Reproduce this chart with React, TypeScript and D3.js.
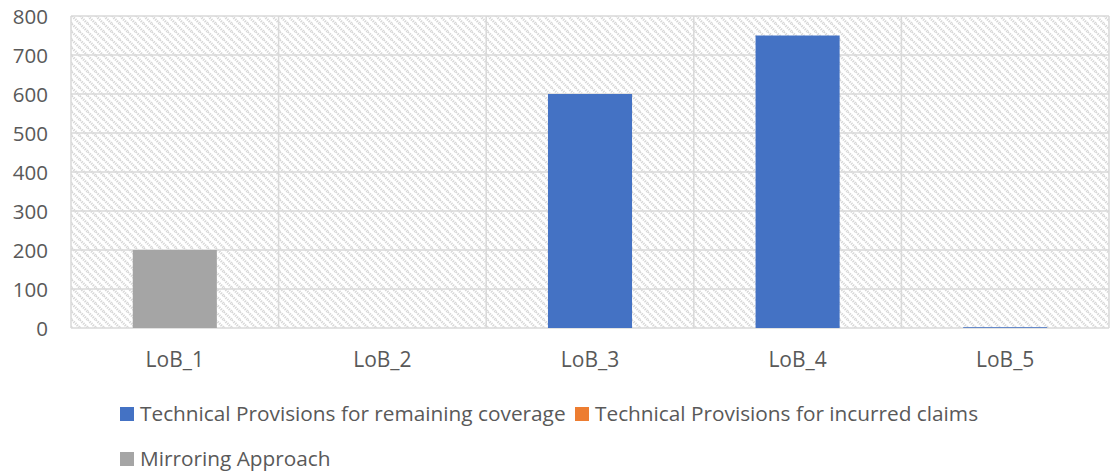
import React from "react";
import * as d3 from "d3";

// Lines of business on the category axis
const categories = ["LoB_1", "LoB_2", "LoB_3", "LoB_4", "LoB_5"];

// Series values per line of business
const remainingCoverage = [0, 0, 600, 750, 2];
const incurredClaims = [0, 0, 0, 0, 0];
const mirroringApproach = [200, 0, 0, 0, 0];

const seriesNames = [
  "Technical Provisions for remaining coverage",
  "Technical Provisions for incurred claims",
  "Mirroring Approach",
];
const seriesColors = ["#4472C4", "#ED7D31", "#A5A5A5"];

const yTicks = [0, 100, 200, 300, 400, 500, 600, 700, 800];

const W = 1117;
const H = 476;
const margin = { left: 71, right: 8, top: 16, bottom: 148 };
const FONT = "'Open Sans', Lato, sans-serif";
const TEXT = "#595959";
const GRID = "#D9D9D9";

export default function App() {
  const x = d3
    .scaleBand<string>()
    .domain(categories)
    .range([margin.left, W - margin.right])
    .padding(0);
  const y = d3
    .scaleLinear()
    .domain([0, 800])
    .range([H - margin.bottom, margin.top]);

  const rows = categories.map((c, i) => ({
    cat: c,
    s0: remainingCoverage[i],
    s1: incurredClaims[i],
    s2: mirroringApproach[i],
  }));
  const stacked = d3.stack<any>().keys(["s0", "s1", "s2"])(rows);

  const barW = x.bandwidth() * 0.405;
  const plotL = margin.left;
  const plotR = W - margin.right;
  const plotT = margin.top;
  const plotB = H - margin.bottom;

  // legend layout: two entries on the first row, one on the second
  const legendItems = [
    { i: 0, x: 120, y: 407 },
    { i: 1, x: 575, y: 407 },
    { i: 2, x: 120, y: 452 },
  ];

  return (
    <svg
      width={W}
      height={H}
      style={{ position: "absolute", left: 0, top: 0, background: "#fff" }}
    >
      <defs>
        <pattern
          id="diag"
          width={8}
          height={8}
          patternUnits="userSpaceOnUse"
        >
          <path
            d="M-4,4 L4,12 M0,0 L8,8 M4,-4 L12,4"
            stroke="#D6D6D6"
            strokeWidth={2.6}
            strokeDasharray="1.3 1"
          />
        </pattern>
      </defs>

      {/* hatched plot area */}
      <rect
        x={plotL}
        y={plotT}
        width={plotR - plotL}
        height={plotB - plotT}
        fill="url(#diag)"
      />

      {/* horizontal gridlines */}
      {yTicks.map((t) => (
        <line
          key={"h" + t}
          x1={plotL}
          x2={plotR}
          y1={y(t)}
          y2={y(t)}
          stroke={GRID}
          strokeWidth={1.5}
        />
      ))}
      {/* vertical gridlines between categories */}
      {categories.map((c) => (
        <line
          key={"v" + c}
          x1={x(c)!}
          x2={x(c)!}
          y1={plotT}
          y2={plotB}
          stroke={GRID}
          strokeWidth={1.5}
        />
      ))}
      <line
        x1={plotR}
        x2={plotR}
        y1={plotT}
        y2={plotB}
        stroke={GRID}
        strokeWidth={1.5}
      />

      {/* bars */}
      {stacked.map((layer, si) =>
        layer.map((d, ci) => {
          const h = y(d[0]) - y(d[1]);
          if (h <= 0) return null;
          const cx = x(categories[ci])! + x.bandwidth() / 2;
          return (
            <rect
              key={si + "-" + ci}
              x={cx - barW / 2}
              y={y(d[1])}
              width={barW}
              height={h}
              fill={seriesColors[si]}
            />
          );
        })
      )}

      {/* y axis labels */}
      {yTicks.map((t) => (
        <text
          key={"yl" + t}
          x={48}
          y={y(t) + 7.8}
          textAnchor="end"
          fontFamily={FONT}
          fontSize={20.5}
          fill={TEXT}
        >
          {t}
        </text>
      ))}

      {/* x axis labels */}
      {categories.map((c) => (
        <text
          key={"xl" + c}
          x={x(c)! + x.bandwidth() / 2}
          y={366.5}
          textAnchor="middle"
          fontFamily={FONT}
          fontSize={21}
          fill={TEXT}
        >
          {c}
        </text>
      ))}

      {/* legend */}
      {legendItems.map((l) => (
        <g key={"lg" + l.i}>
          <rect x={l.x} y={l.y} width={14} height={14} fill={seriesColors[l.i]} />
          <text
            x={l.x + 20}
            y={l.y + 14}
            fontFamily={FONT}
            fontSize={20.8}
            fill={TEXT}
          >
            {seriesNames[l.i]}
          </text>
        </g>
      ))}
    </svg>
  );
}
